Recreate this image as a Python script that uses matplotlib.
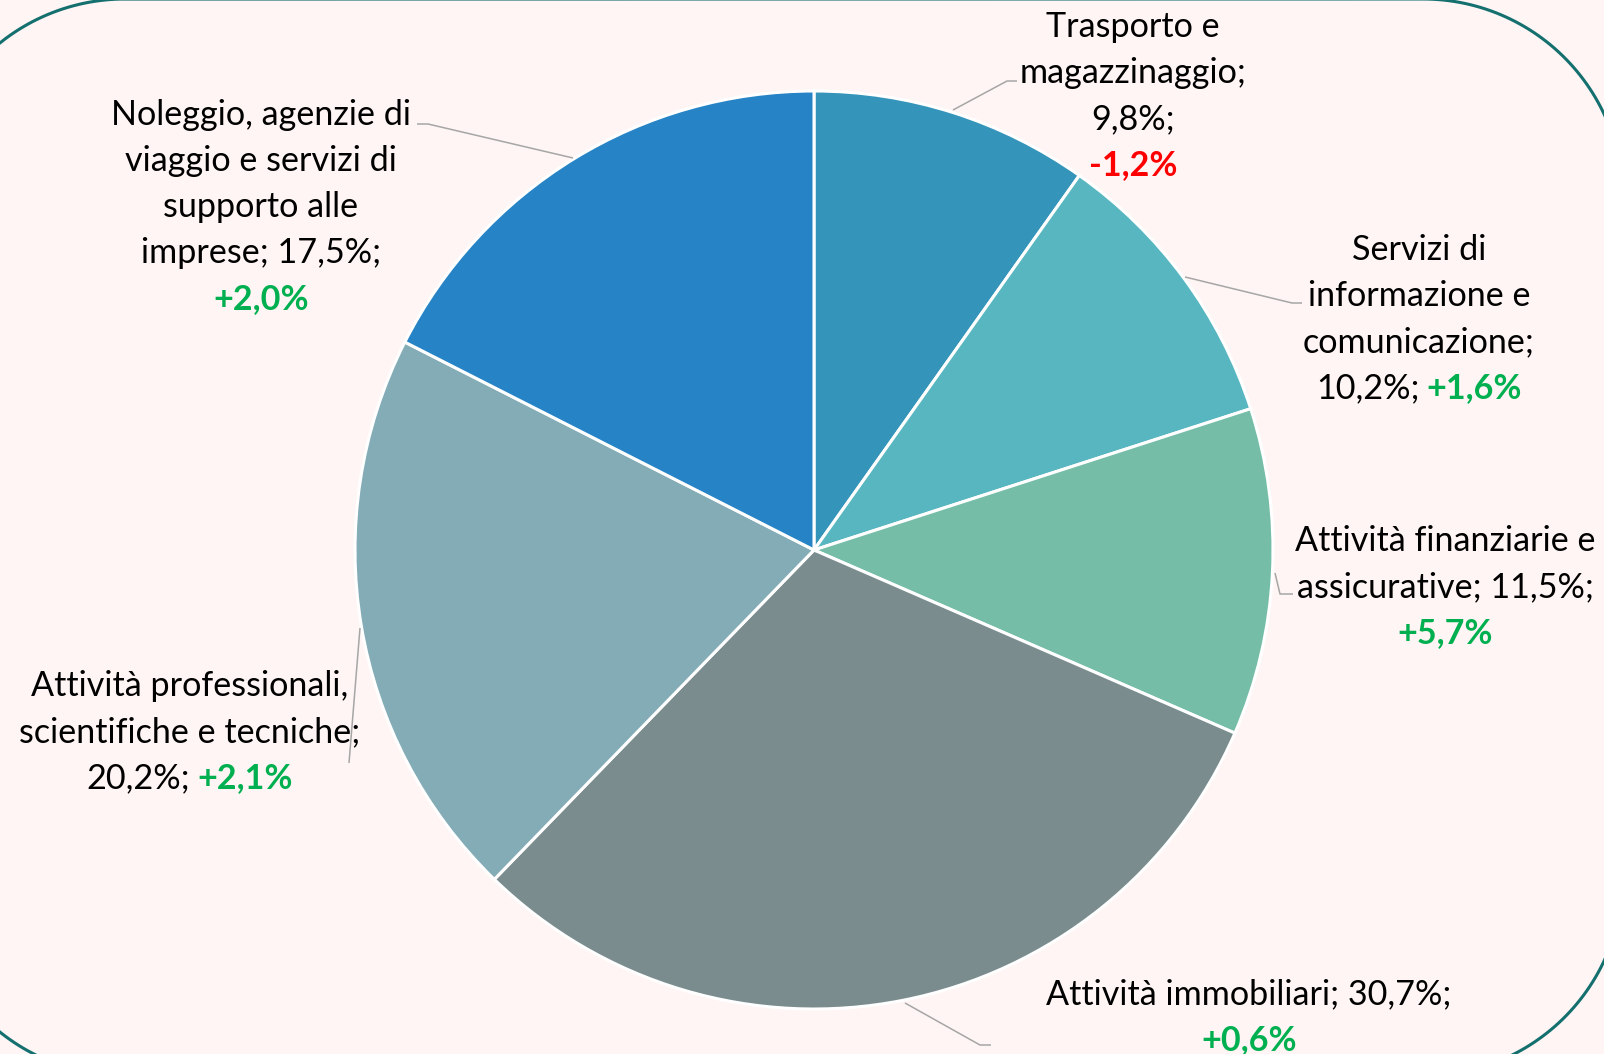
import matplotlib
matplotlib.use("Agg")
import numpy as np
import matplotlib.pyplot as plt

# data
categories = ["Trasporto e magazzinaggio", "Servizi di informazione e comunicazione",
              "Attività finanziarie e assicurative", "Attività immobiliari",
              "Attività professionali, scientifiche e tecniche",
              "Noleggio, agenzie di viaggio e servizi di supporto alle imprese"]
shares = [9.8, 10.2, 11.5, 30.7, 20.2, 17.5]
changes = ["-1,2%", "+1,6%", "+5,7%", "+0,6%", "+2,1%", "+2,0%"]
colors = ["#3494BA", "#58B6C0", "#75BDA7", "#7A8C8E", "#84ACB6", "#2683C6"]

GREEN = "#00B050"
RED = "#FF0000"
BG = "#FFF5F4"

W, H = 1604, 1054
fig = plt.figure(figsize=(W / 100, H / 100), dpi=100)
fig.patch.set_facecolor(BG)
ax = fig.add_axes([0, 0, 1, 1])

def Y(y):
    # reference pixel row -> data y
    return H - y

ax.pie(shares, colors=colors, startangle=90, counterclock=False,
       center=(814, Y(550)), radius=459,
       wedgeprops=dict(edgecolor="white", linewidth=2.2), frame=True)
ax.set_xlim(0, W)
ax.set_ylim(0, H)
ax.set_aspect("equal")
ax.axis("off")

# rounded frame with circular corners, partly outside the picture
left, right, top, bottom, r = -75, 1623, -1, 1076, 200
xs, ys = [], []
for cx, cy, a0 in [(right - r, top + r, 90), (left + r, top + r, 180),
                   (left + r, bottom - r, 270), (right - r, bottom - r, 0)]:
    a = np.radians(np.linspace(a0 - 90, a0, 60))
    # y grows downward in pixel rows, so flip sin
    xs.extend(cx + r * np.cos(a))
    ys.extend(cy - r * np.sin(a))
xs.append(xs[0])
ys.append(ys[0])
ax.plot(xs, [Y(v) for v in ys], color="#13706F", linewidth=2.2)

# leader lines
leaders = [
    [(953, 110), (1007, 81), (1017, 81)],
    [(1185, 277), (1292, 303), (1302, 303)],
    [(1275, 573), (1280, 594), (1293, 594)],
    [(905, 1003), (980, 1045), (991, 1045)],
    [(360, 628), (349, 763)],
    [(573, 158), (428, 124), (417, 124)],
]
for pts in leaders:
    ax.plot([p[0] for p in pts], [Y(p[1]) for p in pts], color="#A6A6A6",
            linewidth=1.1, solid_capstyle="butt")

FONT = "Lato"
FS = 24.6
fig.canvas.draw()
renderer = fig.canvas.get_renderer()

def put_line(segments, xc, y):
    texts = []
    for s, c, w in segments:
        t = ax.text(0, Y(y), s, color=c, fontweight=w, fontsize=FS,
                    family=FONT, ha="left", va="center")
        texts.append(t)
    widths = [t.get_window_extent(renderer).width for t in texts]
    gap = FS * 0.3
    total = sum(widths) + gap * (len(texts) - 1)
    x = xc - total / 2
    for t, w in zip(texts, widths):
        t.set_x(x)
        x += w + gap

def put_label(lines, xc, y0, step=46):
    for i, ln in enumerate(lines):
        put_line(ln, xc, y0 + 2 + i * step)

K = "black"
put_label([[("Trasporto e", K, "normal")],
           [("magazzinaggio;", K, "normal")],
           [("9,8%;", K, "normal")],
           [(changes[0], RED, "bold")]], 1133, 25)
put_label([[("Servizi di", K, "normal")],
           [("informazione e", K, "normal")],
           [("comunicazione;", K, "normal")],
           [("10,2%;", K, "normal"), (changes[1], GREEN, "bold")]], 1419, 248)
put_label([[("Attività finanziarie e", K, "normal")],
           [("assicurative; 11,5%;", K, "normal")],
           [(changes[2], GREEN, "bold")]], 1445, 539)
put_label([[("Attività immobiliari; 30,7%;", K, "normal")],
           [(changes[3], GREEN, "bold")]], 1249, 992)
put_label([[("Attività professionali,", K, "normal")],
           [("scientifiche e tecniche;", K, "normal")],
           [("20,2%;", K, "normal"), (changes[4], GREEN, "bold")]], 190, 684)
put_label([[("Noleggio, agenzie di", K, "normal")],
           [("viaggio e servizi di", K, "normal")],
           [("supporto alle", K, "normal")],
           [("imprese; 17,5%;", K, "normal")],
           [(changes[5], GREEN, "bold")]], 261, 113)

fig.savefig("out.png", dpi=100, facecolor=BG)
